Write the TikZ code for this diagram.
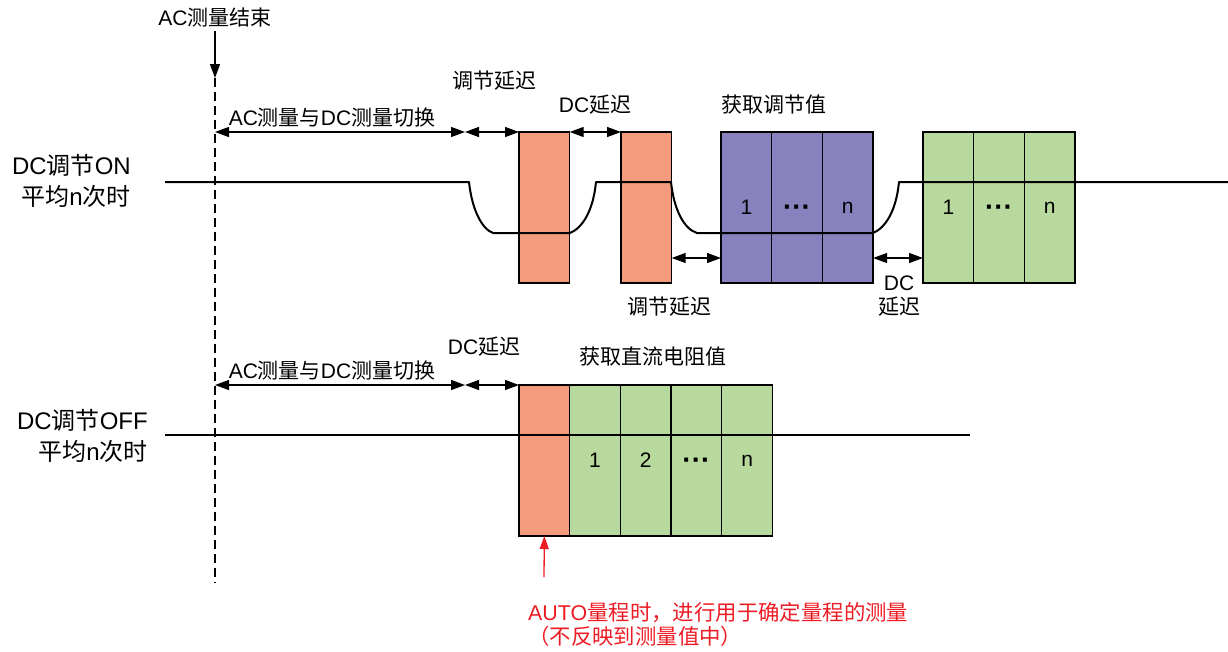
\documentclass[tikz,border=0pt]{standalone}
\usepackage{fontspec}
\setmainfont{Liberation Sans}
\newfontfamily\cjk{Noto Sans CJK SC}
\usetikzlibrary{arrows.meta, positioning}
\definecolor{adjOrange}{RGB}{244,155,126}
\definecolor{adjPurple}{RGB}{135,129,189}
\definecolor{dcGreen}{RGB}{183,217,157}
\definecolor{noteRed}{RGB}{237,28,36}
\def\cellW{50.7}
\def\cellH{151}
\newcommand{\zh}[1]{{\cjk #1}}
\newcommand{\dotsym}{\vphantom{1}\smash{\raisebox{-2pt}{\fontsize{28}{28}\selectfont\bfseries ···}}}
\newcommand{\cellrow}[5]{%
% #1 = name, #2 = left x, #3 = top y, #4 = colour, #5 = labels
\foreach \lbl [count=\i] in {#5} {
\node[cell, fill=#4] (#1\i) at ({#2+(\i-1)*\cellW},#3) {\lbl};
}
}

\begin{document}
\begin{tikzpicture}[
    x=1pt, y=-1pt,
    font=\fontsize{21}{24}\selectfont,
    >={Triangle[length=14pt,width=10pt]},
    cell/.style={draw, line width=1.3pt, anchor=north west, minimum width=\cellW pt,
        minimum height=\cellH pt, inner sep=0pt, outer sep=0pt},
    signal/.style={line width=2pt, line join=round},
    span/.style={<->, line width=1.3pt},
    guide/.style={line width=1.3pt, dash pattern=on 9pt off 5pt},
    side/.style={anchor=east, align=right, inner sep=0pt, font=\fontsize{24}{31}\selectfont}
]
\useasboundingbox (0,0) rectangle (1228,651);

% end of AC measurement
\node (acDone) at (215,18) {AC\zh{测量结束}};
\coordinate (acMark) at (215,78);
\coordinate (guideEnd) at (215,583);
\draw[->, line width=1.3pt] (acDone) -- (acMark);
\draw[guide] (acMark) -- (guideEnd);

% DC adjust ON
\node[side] (onLbl) at (131,181) {DC\zh{调节}ON\\\zh{平均}n\zh{次时}};
\node[cell, fill=adjOrange] (o1) at (519,132) {};
\node[cell, fill=adjOrange] (o2) at (621,132) {};
\cellrow{p}{721}{132}{adjPurple}{1,\dotsym,n}
\cellrow{g}{923}{132}{dcGreen}{1,\dotsym,n}

\draw[signal] (165,182) -- (469,182)
    .. controls (472,210) and (482,229) .. (493,233) -- (570,233)
    .. controls (582,228) and (593,212) .. (596,182) -- (671,182)
    .. controls (674,210) and (684,229) .. (697,233) -- (873,233)
    .. controls (885,228) and (896,212) .. (899,182) -- (1228,182);

\coordinate (swA) at (215,132);
\coordinate (swB) at (465,132);
\draw[span] (swA) -- (swB);
\draw[span] (swB) -- (o1.north west);
\draw[span] (o1.north east) -- (o2.north west);
\draw[span] ([yshift=25pt]o2.south east) -- ([yshift=25pt]p1.south west);
\draw[span] ([yshift=25pt]p3.south east) -- ([yshift=25pt]g1.south west);

\node (swLblA) at (332,118) {AC\zh{测量与}DC\zh{测量切换}};
\node (adjLblA) at (494,81) {\zh{调节延迟}};
\node (dcLblA) at (595,105) {DC\zh{延迟}};
\node (getAdj) at (774,105) {\zh{获取调节值}};
\node (adjLblB) at (669,307) {\zh{调节延迟}};
\node[align=center] (dcLblB) at (899,296) {DC\\\zh{延迟}};

% DC adjust OFF
\node[side] (offLbl) at (148,436) {DC\zh{调节}OFF\\\zh{平均}n\zh{次时}};
\node[cell, fill=adjOrange] (oOff) at (519,385) {};
\cellrow{d}{569.7}{385}{dcGreen}{1,2,\dotsym,n}

\draw[signal] (165,435) -- (970,435);

\coordinate (swC) at (215,385);
\coordinate (swD) at (465,385);
\draw[span] (swC) -- (swD);
\draw[span] (swD) -- (oOff.north west);

\node (swLblB) at (332,371) {AC\zh{测量与}DC\zh{测量切换}};
\node (dcLblC) at (484,347) {DC\zh{延迟}};
\node (getRes) at (653,357) {\zh{获取直流电阻值}};

% AUTO range note
\coordinate (noteArrow) at (544,577);
\draw[->, noteRed, line width=1.3pt, >={Triangle[length=13pt,width=9pt]}] (noteArrow) -- (oOff.south);
\node[anchor=north west, align=left, text=noteRed, inner sep=0pt,
    font=\fontsize{21.4}{24}\selectfont] (note) at (528,602)
    {AUTO\zh{量程时，进行用于确定量程的测量}\\\zh{（不反映到测量值中）}};
\end{tikzpicture}
\end{document}
